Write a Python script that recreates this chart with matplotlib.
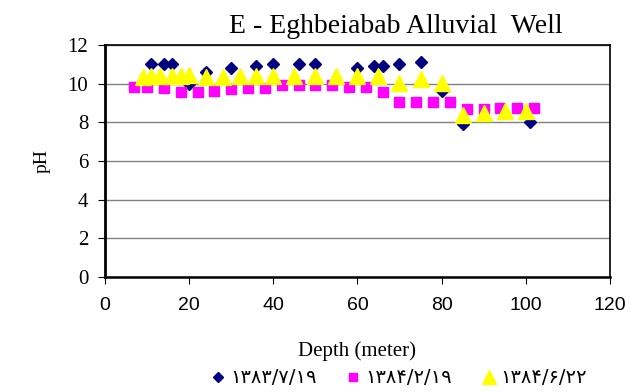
import numpy as np
import matplotlib.pyplot as plt

# depth (m) and pH for each sampling date
depth_a = [11, 14, 16, 20, 24, 30, 36, 40, 46, 50, 60, 64, 66, 70, 75, 80, 85, 101]
ph_a = [11.0, 11.0, 11.0, 10.0, 10.6, 10.8, 10.9, 11.0, 11.0, 11.0,
        10.8, 10.9, 10.9, 11.0, 11.1, 9.6, 7.9, 8.0]

depth_b = [7, 10, 14, 18, 22, 26, 30, 34, 38, 42, 46, 50, 54, 58, 62, 66,
           70, 74, 78, 82, 86, 90, 94, 98, 102]
ph_b = [9.85, 9.85, 9.8, 9.55, 9.55, 9.65, 9.75, 9.8, 9.8, 9.95, 9.95, 9.95,
        9.95, 9.85, 9.85, 9.55, 9.05, 9.05, 9.05, 9.05, 8.7, 8.7, 8.75, 8.75, 8.75]

depth_c = [9, 11, 13, 16, 18, 20, 24, 28, 32, 36, 40, 45, 50, 55, 60, 65,
           70, 75, 80, 85, 90, 95, 100]
ph_c = [10.35, 10.4, 10.4, 10.4, 10.4, 10.45, 10.35, 10.35, 10.4, 10.4, 10.4,
        10.4, 10.4, 10.4, 10.4, 10.4, 10.05, 10.25, 10.05, 8.4, 8.5, 8.6, 8.6]

labels = ["۱۳۸۳/۷/۱۹", "۱۳۸۴/۲/۱۹", "۱۳۸۴/۶/۲۲"]

fig = plt.figure(figsize=(6.3, 3.92), dpi=100)
ax = fig.add_axes([0.1667, 0.293, 0.8013, 0.592])

ax.plot(depth_a, ph_a, "D", color="#000080", markersize=6.5, label=labels[0], zorder=3)
ax.plot(depth_b, ph_b, "s", color="#FF00FF", markersize=7.5, label=labels[1], zorder=4)
ax.plot(depth_c, ph_c, "^", color="#FFFF00", markersize=12, label=labels[2], zorder=5)

ax.set_xlim(0, 120)
ax.set_ylim(0, 12)
ax.set_xticks(np.arange(0, 121, 20))
ax.set_yticks(np.arange(0, 13, 2))
ax.yaxis.grid(True, color="#808080", linewidth=1)
ax.set_axisbelow(True)

for s in ax.spines.values():
    s.set_color("black")
    s.set_linewidth(1.2)
ax.spines["left"].set_linewidth(2)
ax.spines["bottom"].set_linewidth(1.8)

ax.tick_params(axis="x", direction="out", length=5, pad=9, labelsize=14)
ax.tick_params(axis="y", direction="out", length=5, pad=7, labelsize=15)
for t in ax.get_yticklabels():
    t.set_fontfamily("Liberation Serif")
for t in ax.get_xticklabels():
    t.set_fontfamily("Liberation Sans")

ax.set_title("E - Eghbeiabab Alluvial  Well", family="Liberation Serif",
             fontsize=20, pad=9, x=0.576)
ax.set_xlabel("Depth (meter)", family="Liberation Serif", fontsize=15, labelpad=20)
ax.set_ylabel("pH", family="Liberation Serif", fontsize=14, labelpad=12)

ax.legend(loc="center", bbox_to_anchor=(0.578, -0.434), ncol=3, frameon=False,
          prop={"family": "DejaVu Sans", "size": 14}, handletextpad=0.0,
          columnspacing=1.3, markerscale=0.8, numpoints=1, handlelength=1.2)

fig.savefig("out.png", dpi=100)
